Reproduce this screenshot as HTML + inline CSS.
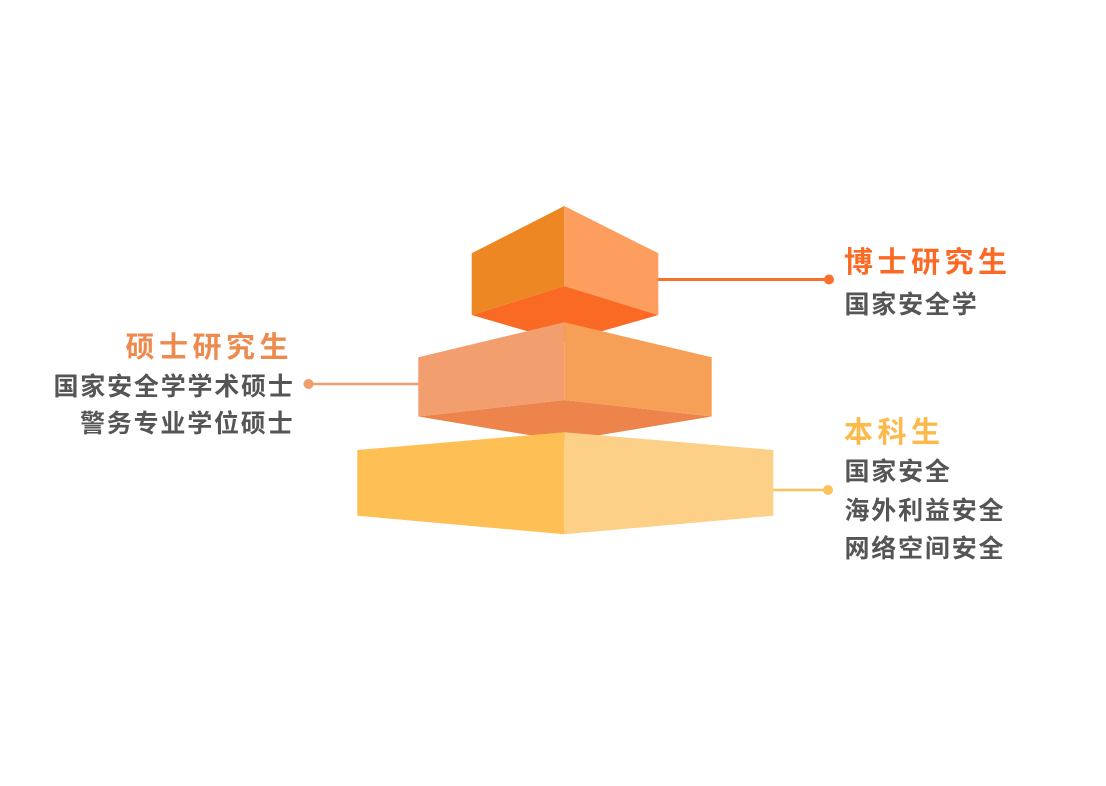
<!DOCTYPE html>
<html>
<head>
<meta charset="utf-8">
<style>
  html,body{margin:0;padding:0;background:#ffffff;}
  #wrap{position:relative;width:1106px;height:786px;overflow:hidden;background:#fff;}
  svg{position:absolute;left:0;top:0;}
  .t{position:absolute;white-space:nowrap;font-family:"Noto Sans CJK SC","Liberation Sans",sans-serif;font-weight:700;}
  .title{font-size:29px;line-height:29px;letter-spacing:4.5px;}
  .sub{font-size:25px;line-height:25px;letter-spacing:1.8px;color:#555555;}
</style>
</head>
<body>
<div id="wrap">
<svg width="1106" height="786" viewBox="0 0 1106 786">
  <!-- connectors -->
  <line x1="655" y1="279.5" x2="829" y2="279.5" stroke="#FB6F2C" stroke-width="3"/>
  <circle cx="829" cy="279.5" r="5" fill="#FB6F2C"/>
  <line x1="308" y1="384" x2="421" y2="384" stroke="#F29D6E" stroke-width="2.6"/>
  <circle cx="308.5" cy="384" r="5" fill="#F29D6E"/>
  <line x1="770" y1="490" x2="828" y2="490" stroke="#FDC25C" stroke-width="2.6"/>
  <circle cx="828" cy="490" r="5" fill="#FDC25C"/>

  <!-- top block -->
  <polygon points="471.7,315 564.3,286 658.3,315 564.3,342" fill="#FB6A25"/>
  <polygon points="564.3,206 471.7,253.3 471.7,315 564.3,286" fill="#EC8723"/>
  <polygon points="564.3,206 658.3,253.3 658.3,315 564.3,286" fill="#FD9E5E"/>

  <!-- middle block -->
  <polygon points="418.3,416.5 564.3,400 711.7,416.5 564.3,441" fill="#EC844B"/>
  <polygon points="564.3,322.3 418.3,357.3 418.3,416.5 564.3,400" fill="#F29E6F"/>
  <polygon points="564.3,322.3 711.7,357.3 711.7,416.5 564.3,400" fill="#F59F57"/>

  <!-- bottom block -->
  <polygon points="564.3,432.3 357.3,450 357.3,515.7 564.3,534.3" fill="#FEC055"/>
  <polygon points="564.3,432.3 773.3,450 773.3,515.7 564.3,534.3" fill="#FDD088"/>
</svg>

<div class="t title" style="left:844px;top:246.4px;color:#FB6A25;">博士研究生</div>
<div class="t sub" style="left:844.5px;top:291.1px;">国家安全学</div>

<div class="t title" style="left:125.5px;top:331.4px;color:#EE8A4E;">硕士研究生</div>
<div class="t sub" style="left:53.5px;top:372.6px;">国家安全学学术硕士</div>
<div class="t sub" style="left:80px;top:410.1px;">警务专业学位硕士</div>

<div class="t title" style="left:844px;top:415.9px;color:#FDBA4A;">本科生</div>
<div class="t sub" style="left:844.5px;top:457.6px;">国家安全</div>
<div class="t sub" style="left:844.5px;top:497.1px;">海外利益安全</div>
<div class="t sub" style="left:844.5px;top:535.1px;">网络空间安全</div>
</div>
</body>
</html>
